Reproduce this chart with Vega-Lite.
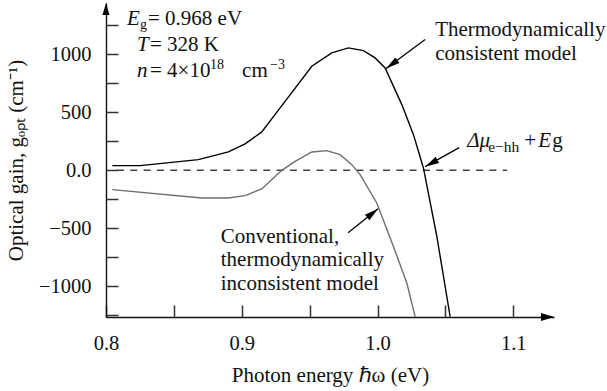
{
  "$schema": "https://vega.github.io/schema/vega-lite/v6.json",
  "width": 448,
  "height": 314,
  "autosize": "none",
  "padding": {"left": 106, "top": 3, "right": 53, "bottom": 74},
  "background": "white",
  "config": {"view": {"stroke": null}},
  "datasets": {
    "curves": [
      {"series": "consistent", "x": 0.80464, "y": 38.8},
      {"series": "consistent", "x": 0.82506, "y": 38.8},
      {"series": "consistent", "x": 0.86802, "y": 90.5},
      {"series": "consistent", "x": 0.89013, "y": 156.9},
      {"series": "consistent", "x": 0.90243, "y": 225.9},
      {"series": "consistent", "x": 0.91474, "y": 329.3},
      {"series": "consistent", "x": 0.93191, "y": 593.1},
      {"series": "consistent", "x": 0.95159, "y": 894.8},
      {"series": "consistent", "x": 0.96632, "y": 1010.3},
      {"series": "consistent", "x": 0.97856, "y": 1053.4},
      {"series": "consistent", "x": 0.98961, "y": 1030.2},
      {"series": "consistent", "x": 0.99823, "y": 967.2},
      {"series": "consistent", "x": 1.0056, "y": 881},
      {"series": "consistent", "x": 1.01791, "y": 564.7},
      {"series": "consistent", "x": 1.02646, "y": 306},
      {"series": "consistent", "x": 1.03382, "y": 19},
      {"series": "consistent", "x": 1.0437, "y": -570.7},
      {"series": "consistent", "x": 1.0535, "y": -1262},
      {"series": "conventional", "x": 0.80464, "y": -168.1},
      {"series": "conventional", "x": 0.87052, "y": -239.7},
      {"series": "conventional", "x": 0.89013, "y": -239.7},
      {"series": "conventional", "x": 0.90243, "y": -219.8},
      {"series": "conventional", "x": 0.91474, "y": -162.1},
      {"series": "conventional", "x": 0.92948, "y": -1.7},
      {"series": "conventional", "x": 0.93928, "y": 75.9},
      {"series": "conventional", "x": 0.95159, "y": 156.9},
      {"series": "conventional", "x": 0.96264, "y": 168.1},
      {"series": "conventional", "x": 0.97244, "y": 133.6},
      {"series": "conventional", "x": 0.98106, "y": 47.4},
      {"series": "conventional", "x": 0.98718, "y": -38.8},
      {"series": "conventional", "x": 0.99948, "y": -282.8},
      {"series": "conventional", "x": 1.01171, "y": -656.9},
      {"series": "conventional", "x": 1.02159, "y": -972.4},
      {"series": "conventional", "x": 1.02771, "y": -1262}
    ],
    "zeroline": [{"x": 0.8081, "x2": 1.0955, "y": 0}],
    "shafts": [
      {"id": "thermo", "x": 1.03508, "y": 1125, "x2": 1.00634, "y2": 875},
      {"id": "mu", "x": 1.06013, "y": 194, "x2": 1.03508, "y2": 30},
      {"id": "conv", "x": 0.97834, "y": -538.8, "x2": 1.00044, "y2": -331.9}
    ],
    "heads": [
      {"id": "thermo", "x": 1.00634, "y": 875},
      {"id": "mu", "x": 1.03508, "y": 30},
      {"id": "conv", "x": 1.00044, "y": -331.9}
    ],
    "axistips": [
      {"id": "y", "x": 0.8, "y": 1440},
      {"id": "x", "x": 1.13, "y": -1265}
    ],
    "textNormal": [
      {"t": "= 0.968 eV", "x": 0.83095, "y": 1254},
      {"t": "= 328 K", "x": 0.83242, "y": 1030},
      {"t": "= 4×10", "x": 0.83242, "y": 806},
      {"t": "cm", "x": 0.90022, "y": 806},
      {"t": "+", "x": 1.10803, "y": 202.6},
      {"t": "g", "x": 1.12867, "y": 202.6},
      {"t": "Thermodynamically", "x": 1.04245, "y": 1153},
      {"t": "consistent model", "x": 1.04245, "y": 952.6},
      {"t": "Conventional,", "x": 0.88452, "y": -625},
      {"t": "thermodynamically", "x": 0.88452, "y": -827.6},
      {"t": "inconsistent model", "x": 0.88452, "y": -1030}
    ],
    "textItalic": [
      {"t": "E", "x": 0.81548, "y": 1254},
      {"t": "T", "x": 0.82284, "y": 1030},
      {"t": "n", "x": 0.82284, "y": 806},
      {"t": "Δμ", "x": 1.06603, "y": 202.6},
      {"t": "E", "x": 1.11835, "y": 202.6}
    ],
    "textSmall": [
      {"t": "g", "x": 0.82506, "y": 1219.8},
      {"t": "18", "x": 0.87664, "y": 875},
      {"t": "−3", "x": 0.92086, "y": 875}
    ],
    "textSub": [
      {"t": "e−hh", "x": 1.0815, "y": 159.5}
    ]
  },
  "encoding": {
    "x": {
      "field": "x", "type": "quantitative",
      "scale": {"domain": [0.8, 1.13], "nice": false, "zero": false},
      "axis": {
        "values": [0.8, 0.85, 0.9, 0.95, 1.0, 1.05, 1.1],
        "labelExpr": "abs(datum.value*10 - round(datum.value*10)) < 0.001 ? format(datum.value, '.1f') : ''",
        "grid": false,
        "tickSize": -12, "tickColor": "#333", "tickWidth": 1.5,
        "domainColor": "#111", "domainWidth": 1.4,
        "labelFont": "Liberation Serif", "labelFontSize": 20.5, "labelColor": "#111",
        "labelPadding": 28, "labelFlush": false, "labelOverlap": false,
        "title": "Photon energy ℏω (eV)",
        "titleFont": "Liberation Serif", "titleFontSize": 21, "titleFontWeight": "normal",
        "titleColor": "#111", "titlePadding": 11
      }
    },
    "y": {
      "field": "y", "type": "quantitative",
      "scale": {"domain": [-1265, 1440], "nice": false, "zero": false},
      "axis": {
        "values": [-1250, -1000, -750, -500, -250, 0, 250, 500, 750, 1000, 1250],
        "labelExpr": "datum.value == 0 ? '0.0' : (abs(datum.value) % 500 == 0 ? format(datum.value, 'd') : '')",
        "grid": false,
        "tickSize": -12, "tickColor": "#333", "tickWidth": 1.5,
        "domainColor": "#111", "domainWidth": 1.4,
        "labelFont": "Liberation Serif", "labelFontSize": 20.5, "labelColor": "#111",
        "labelPadding": 27, "labelFlush": false, "labelOverlap": false,
        "title": "Optical gain, gₒₚₜ (cm⁻¹)",
        "titleFont": "Liberation Serif", "titleFontSize": 21, "titleFontWeight": "normal",
        "titleColor": "#111", "titlePadding": 12
      }
    }
  },
  "layer": [
    {
      "data": {"name": "zeroline"},
      "mark": {"type": "rule", "strokeDash": [7, 6.3], "color": "#444", "strokeWidth": 1.5},
      "encoding": {"x2": {"field": "x2"}}
    },
    {
      "data": {"name": "curves"},
      "mark": {"type": "line", "strokeWidth": 1.4},
      "encoding": {
        "color": {"field": "series", "type": "nominal", "scale": {"domain": ["consistent", "conventional"], "range": ["#000000", "#6e6e6e"]}, "legend": null}
      }
    },
    {
      "data": {"name": "shafts"},
      "mark": {"type": "rule", "color": "#000", "strokeWidth": 1.3},
      "encoding": {"x2": {"field": "x2"}, "y2": {"field": "y2"}}
    },
    {
      "data": {"name": "heads"},
      "transform": [{"filter": "datum.id == 'thermo'"}],
      "mark": {"type": "point", "shape": "M0,0L-2,-0.5L-2,0.5Z", "size": 196, "filled": true, "color": "#000", "opacity": 1, "strokeWidth": 0, "angle": 143.4}
    },
    {
      "data": {"name": "heads"},
      "transform": [{"filter": "datum.id == 'mu'"}],
      "mark": {"type": "point", "shape": "M0,0L-2,-0.5L-2,0.5Z", "size": 196, "filled": true, "color": "#000", "opacity": 1, "strokeWidth": 0, "angle": 150.8}
    },
    {
      "data": {"name": "heads"},
      "transform": [{"filter": "datum.id == 'conv'"}],
      "mark": {"type": "point", "shape": "M0,0L-2,-0.5L-2,0.5Z", "size": 196, "filled": true, "color": "#000", "opacity": 1, "strokeWidth": 0, "angle": 321.3}
    },
    {
      "data": {"name": "axistips"},
      "transform": [{"filter": "datum.id == 'y'"}],
      "mark": {"type": "point", "shape": "M0,0L-0.58,2L0.58,2Z", "size": 144, "filled": true, "color": "#000", "opacity": 1, "strokeWidth": 0}
    },
    {
      "data": {"name": "axistips"},
      "transform": [{"filter": "datum.id == 'x'"}],
      "mark": {"type": "point", "shape": "M0,0L-2,-0.6L-2,0.6Z", "size": 169, "filled": true, "color": "#000", "opacity": 1, "strokeWidth": 0}
    },
    {
      "data": {"name": "textNormal"},
      "mark": {"type": "text", "font": "Liberation Serif", "fontSize": 21, "align": "left", "baseline": "alphabetic", "color": "#111"},
      "encoding": {"text": {"field": "t"}}
    },
    {
      "data": {"name": "textItalic"},
      "mark": {"type": "text", "font": "Liberation Serif", "fontSize": 21, "fontStyle": "italic", "align": "left", "baseline": "alphabetic", "color": "#111"},
      "encoding": {"text": {"field": "t"}}
    },
    {
      "data": {"name": "textSmall"},
      "mark": {"type": "text", "font": "Liberation Serif", "fontSize": 14, "align": "left", "baseline": "alphabetic", "color": "#111"},
      "encoding": {"text": {"field": "t"}}
    },
    {
      "data": {"name": "textSub"},
      "mark": {"type": "text", "font": "Liberation Serif", "fontSize": 15.5, "align": "left", "baseline": "alphabetic", "color": "#111"},
      "encoding": {"text": {"field": "t"}}
    }
  ]
}
